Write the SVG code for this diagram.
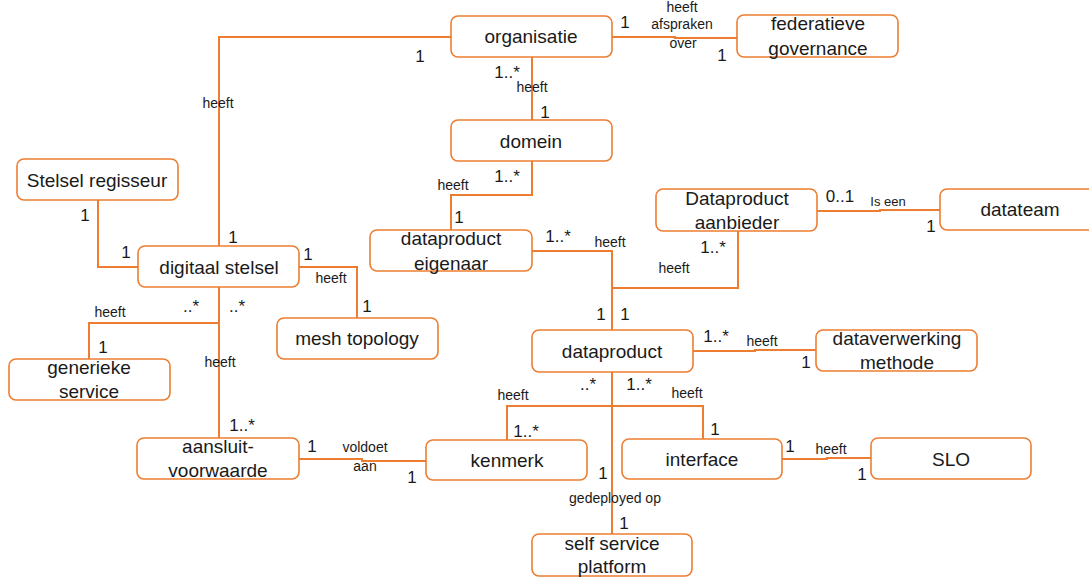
<svg xmlns="http://www.w3.org/2000/svg" width="1089" height="579" viewBox="0 0 1089 579">
  <style>
    .box { fill: #ffffff; stroke: #ED7D31; stroke-width: 1.6; }
    .name { font-family: "Liberation Sans", Arial, sans-serif; font-size: 19px; fill: #1a1a1a; text-anchor: middle; }
    .conn { fill: none; stroke: #ED7D31; stroke-width: 2; }
    .mult { font-family: "Liberation Sans", Arial, sans-serif; font-size: 17px; fill: #1a1a1a; text-anchor: middle; }
    .rel { font-family: "Liberation Sans", Arial, sans-serif; font-size: 14px; fill: #1a1a1a; text-anchor: middle; }
    .rel-sm { font-family: "Liberation Sans", Arial, sans-serif; font-size: 13px; fill: #1a1a1a; text-anchor: middle; }
  </style>

  <rect width="1089" height="579" fill="#ffffff"/>

  <!-- connectors -->
  <g id="connectors">
    <!-- organisatie - digitaal stelsel -->
    <path class="conn" d="M451 37 H219 V246"/>
    <!-- organisatie - federatieve governance -->
    <path class="conn" d="M612 37 H675 V38 H737"/>
    <!-- organisatie - domein -->
    <path class="conn" d="M532 57 V120"/>
    <!-- domein - dataproduct eigenaar -->
    <path class="conn" d="M532 161 V195 H451 V230"/>
    <!-- Stelsel regisseur - digitaal stelsel -->
    <path class="conn" d="M98 200 V267 H138"/>
    <!-- digitaal stelsel - mesh topology -->
    <path class="conn" d="M299 267 H357 V318"/>
    <!-- digitaal stelsel - aansluitvoorwaarde, with branch to generieke service -->
    <path class="conn" d="M219 287 V438"/>
    <path class="conn" d="M219 323 H89 V359"/>
    <!-- dataproduct eigenaar / aanbieder - dataproduct -->
    <path class="conn" d="M532 251 H612 V330"/>
    <path class="conn" d="M738 231 V288 H612"/>
    <!-- Dataproduct aanbieder - datateam -->
    <path class="conn" d="M817 211 H880 V210 H940"/>
    <!-- dataproduct - dataverwerking methode -->
    <path class="conn" d="M693 351 H755 V350 H816"/>
    <!-- dataproduct - self service platform, kenmerk, interface -->
    <path class="conn" d="M612 372 V534"/>
    <path class="conn" d="M507 440 V406 H703 V439"/>
    <!-- aansluitvoorwaarde - kenmerk -->
    <path class="conn" d="M299 459 H362 V461 H426"/>
    <!-- interface - SLO -->
    <path class="conn" d="M782 459 H827 V458 H871"/>
  </g>

  <!-- nodes -->
  <g id="organisatie">
    <rect class="box" x="451" y="16" width="161" height="41" rx="7"/>
    <text class="name" x="531" y="43">organisatie</text>
  </g>
  <g id="federatieve-governance">
    <rect class="box" x="737" y="15" width="161" height="42" rx="7"/>
    <text class="name" x="818" y="30">federatieve</text>
    <text class="name" x="818" y="55">governance</text>
  </g>
  <g id="domein">
    <rect class="box" x="451" y="120" width="161" height="41" rx="7"/>
    <text class="name" x="531" y="148">domein</text>
  </g>
  <g id="stelsel-regisseur">
    <rect class="box" x="17" y="159" width="161" height="41" rx="7"/>
    <text class="name" x="97" y="187">Stelsel regisseur</text>
  </g>
  <g id="digitaal-stelsel">
    <rect class="box" x="138" y="246" width="161" height="41" rx="7"/>
    <text class="name" x="219" y="274">digitaal stelsel</text>
  </g>
  <g id="mesh-topology">
    <rect class="box" x="277" y="318" width="161" height="41" rx="7"/>
    <text class="name" x="357" y="345">mesh topology</text>
  </g>
  <g id="generieke-service">
    <rect class="box" x="9" y="359" width="161" height="41" rx="7"/>
    <text class="name" x="89" y="374">generieke</text>
    <text class="name" x="89" y="398">service</text>
  </g>
  <g id="aansluitvoorwaarde">
    <rect class="box" x="137" y="438" width="162" height="41" rx="7"/>
    <text class="name" x="218" y="453">aansluit-</text>
    <text class="name" x="218" y="477">voorwaarde</text>
  </g>
  <g id="dataproduct-eigenaar">
    <rect class="box" x="370" y="230" width="162" height="41" rx="7"/>
    <text class="name" x="451" y="245">dataproduct</text>
    <text class="name" x="451" y="270">eigenaar</text>
  </g>
  <g id="dataproduct-aanbieder">
    <rect class="box" x="656" y="189" width="161" height="42" rx="7"/>
    <text class="name" x="737" y="205">Dataproduct</text>
    <text class="name" x="737" y="229">aanbieder</text>
  </g>
  <g id="datateam">
    <rect class="box" x="940" y="189" width="160" height="41" rx="7"/>
    <text class="name" x="1020" y="216">datateam</text>
  </g>
  <g id="dataproduct">
    <rect class="box" x="532" y="330" width="161" height="42" rx="7"/>
    <text class="name" x="612" y="358">dataproduct</text>
  </g>
  <g id="dataverwerking-methode">
    <rect class="box" x="816" y="330" width="161" height="41" rx="7"/>
    <text class="name" x="897" y="345">dataverwerking</text>
    <text class="name" x="897" y="369">methode</text>
  </g>
  <g id="kenmerk">
    <rect class="box" x="426" y="440" width="161" height="40" rx="7"/>
    <text class="name" x="507" y="467">kenmerk</text>
  </g>
  <g id="interface">
    <rect class="box" x="622" y="439" width="160" height="40" rx="7"/>
    <text class="name" x="702" y="466">interface</text>
  </g>
  <g id="slo">
    <rect class="box" x="871" y="438" width="160" height="41" rx="7"/>
    <text class="name" x="951" y="466">SLO</text>
  </g>
  <g id="self-service-platform">
    <rect class="box" x="532" y="534" width="160" height="42" rx="7"/>
    <text class="name" x="612" y="550">self service</text>
    <text class="name" x="612" y="573">platform</text>
  </g>

  <!-- multiplicities and role names -->
  <g id="labels">
    <text class="mult" x="420" y="62">1</text>
    <text class="rel" x="218" y="108">heeft</text>

    <text class="mult" x="625" y="28">1</text>
    <text class="rel" x="682" y="12">heeft</text>
    <text class="rel" x="682" y="29">afspraken</text>
    <text class="rel" x="683" y="48">over</text>
    <text class="mult" x="722" y="61">1</text>

    <text class="mult" x="507" y="78">1..*</text>
    <text class="rel" x="532" y="92">heeft</text>
    <text class="mult" x="545" y="118">1</text>

    <text class="mult" x="507" y="182">1..*</text>
    <text class="rel" x="453" y="190">heeft</text>
    <text class="mult" x="459" y="223">1</text>

    <text class="mult" x="85" y="221">1</text>
    <text class="mult" x="126" y="258">1</text>
    <text class="mult" x="233" y="243">1</text>

    <text class="mult" x="308" y="260">1</text>
    <text class="rel" x="331" y="283">heeft</text>
    <text class="mult" x="367" y="312">1</text>

    <text class="rel" x="110" y="317">heeft</text>
    <text class="mult" x="191" y="312">..*</text>
    <text class="mult" x="237" y="312">..*</text>
    <text class="mult" x="103" y="353">1</text>
    <text class="rel" x="220" y="367">heeft</text>
    <text class="mult" x="242" y="431">1..*</text>

    <text class="mult" x="312" y="452">1</text>
    <text class="rel" x="365" y="452">voldoet</text>
    <text class="rel" x="365" y="471">aan</text>
    <text class="mult" x="412" y="483">1</text>

    <text class="mult" x="558" y="242">1..*</text>
    <text class="rel" x="610" y="247">heeft</text>
    <text class="mult" x="713" y="253">1..*</text>
    <text class="rel" x="674" y="273">heeft</text>
    <text class="mult" x="601" y="320">1</text>
    <text class="mult" x="625" y="320">1</text>

    <text class="mult" x="840" y="202">0..1</text>
    <text class="rel-sm" x="888" y="206">Is een</text>
    <text class="mult" x="931" y="232">1</text>

    <text class="mult" x="716" y="342">1..*</text>
    <text class="rel" x="762" y="346">heeft</text>
    <text class="mult" x="806" y="368">1</text>

    <text class="rel" x="513" y="400">heeft</text>
    <text class="mult" x="588" y="390">..*</text>
    <text class="mult" x="639" y="390">1..*</text>
    <text class="rel" x="687" y="398">heeft</text>
    <text class="mult" x="526" y="437">1..*</text>
    <text class="mult" x="715" y="435">1</text>

    <text class="mult" x="603" y="479">1</text>
    <text class="rel" x="615" y="503">gedeployed op</text>
    <text class="mult" x="624" y="529">1</text>

    <text class="mult" x="790" y="452">1</text>
    <text class="rel" x="831" y="454">heeft</text>
    <text class="mult" x="862" y="480">1</text>
  </g>
</svg>
